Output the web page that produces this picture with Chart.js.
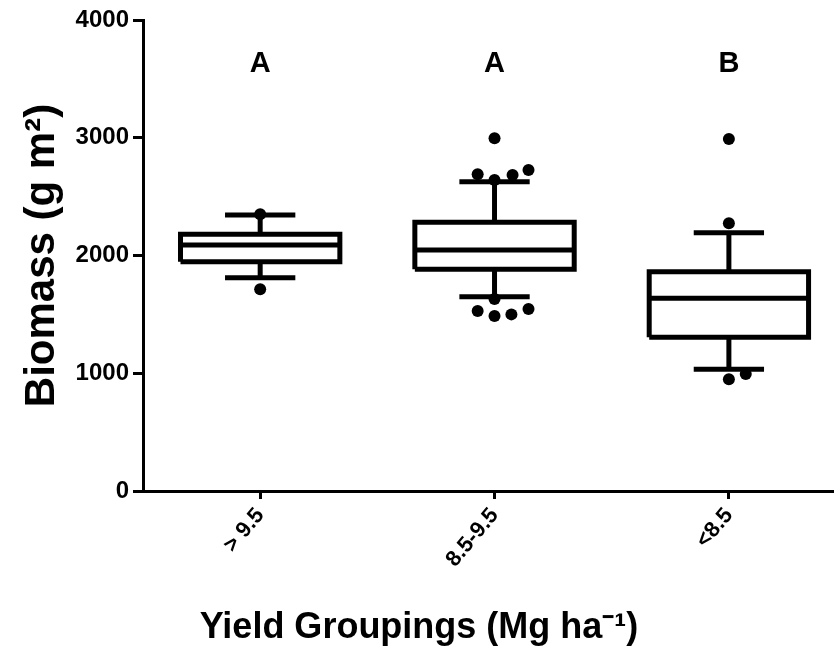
<!DOCTYPE html>
<html>
<head>
<meta charset="utf-8">
<script src="https://cdn.jsdelivr.net/npm/chart.js@4.4.1/dist/chart.umd.min.js"></script>
<style>
  body { margin: 0; background: #fff; }
</style>
</head>
<body>
<canvas id="grafico" width="838" height="656"></canvas>
<script>
// grupos e estatísticas do boxplot
const grupos = ['> 9.5', '8.5-9.5', '<8.5'];
const bigodeMin = [1811, 1650, 1033];
const q1 = [1947, 1883, 1305];
const medianas = [2089, 2047, 1636];
const q3 = [2180, 2282, 1862];
const bigodeMax = [2344, 2627, 2194];
const letras = ['A', 'A', 'B'];
const alturaLetras = 3630;
const ticksY = [0, 1000, 2000, 3000, 4000];

// pontos fora dos bigodes: grupo, deslocamento lateral, valor
const pontosGrupo = [1, 1, 2, 2, 2, 2, 2, 2, 2, 2, 2, 2, 3, 3, 3, 3];
const pontosDesloc = [0, 0, 0, -0.072, 0, 0.077, 0.145, 0, -0.072, 0, 0.072, 0.145, 0, 0, 0, 0.072];
const pontosValor = [2350, 1713, 2995, 2690, 2641, 2684, 2726, 1630, 1529, 1486, 1500, 1546, 2989, 2273, 949, 994];

const meiaCaixa = 0.34;
const meiaTampa = 0.15;
const FONTE = "'Liberation Sans', Arial, sans-serif";

const linha = (pontos) => ({
    type: 'scatter',
    data: pontos,
    showLine: true,
    borderColor: '#000',
    borderWidth: 5,
    pointRadius: 0,
    borderJoinStyle: 'miter',
    borderCapStyle: 'butt',
    order: 2
});

const datasets = [];
grupos.forEach((g, i) => {
    const x = i + 1;
    // caixa
    datasets.push(linha([
        {x: x - meiaCaixa, y: q1[i]}, {x: x + meiaCaixa, y: q1[i]},
        {x: x + meiaCaixa, y: q3[i]}, {x: x - meiaCaixa, y: q3[i]},
        {x: x - meiaCaixa, y: q1[i]}
    ]));
    // mediana
    datasets.push(linha([{x: x - meiaCaixa, y: medianas[i]}, {x: x + meiaCaixa, y: medianas[i]}]));
    // bigodes
    datasets.push(linha([{x: x, y: q3[i]}, {x: x, y: bigodeMax[i]}]));
    datasets.push(linha([{x: x, y: q1[i]}, {x: x, y: bigodeMin[i]}]));
    // tampas
    datasets.push(linha([{x: x - meiaTampa, y: bigodeMax[i]}, {x: x + meiaTampa, y: bigodeMax[i]}]));
    datasets.push(linha([{x: x - meiaTampa, y: bigodeMin[i]}, {x: x + meiaTampa, y: bigodeMin[i]}]));
});

datasets.push({
    type: 'scatter',
    data: pontosValor.map((v, i) => ({x: pontosGrupo[i] + pontosDesloc[i], y: v})),
    backgroundColor: '#000',
    borderColor: '#000',
    pointRadius: 6,
    pointBorderWidth: 0,
    order: 0
});

// letras de significância acima das caixas
const pluginLetras = {
    id: 'letras',
    afterDatasetsDraw(chart) {
        const ctx = chart.ctx;
        ctx.save();
        ctx.fillStyle = '#000';
        ctx.font = 'bold 29px ' + FONTE;
        ctx.textAlign = 'center';
        ctx.textBaseline = 'middle';
        letras.forEach((l, i) => {
            ctx.fillText(l, chart.scales.x.getPixelForValue(i + 1), chart.scales.y.getPixelForValue(alturaLetras));
        });
        ctx.restore();
    }
};

new Chart(document.getElementById('grafico').getContext('2d'), {
    type: 'scatter',
    data: { datasets: datasets },
    options: {
        responsive: false,
        animation: false,
        layout: { padding: { top: 20, right: 0, left: 0, bottom: 0 } },
        plugins: {
            legend: { display: false },
            tooltip: { enabled: false },
            title: {
                display: true,
                position: 'bottom',
                text: 'Yield Groupings (Mg ha\u207B\u00B9)',
                color: '#000',
                font: { family: FONTE, size: 36, weight: 'bold', lineHeight: 1.2 },
                padding: { top: 0, bottom: 6 }
            }
        },
        scales: {
            x: {
                type: 'linear',
                min: 0.5,
                max: 3.44,
                afterFit: (s) => { s.height = 165 - 49.2; },
                afterBuildTicks: (s) => { s.ticks = grupos.map((g, i) => ({value: i + 1})); },
                border: { display: true, color: '#000', width: 3 },
                grid: { drawOnChartArea: false, color: '#000', lineWidth: 3, tickLength: 8 },
                ticks: {
                    color: '#000',
                    font: { family: FONTE, size: 22, weight: 'bold' },
                    maxRotation: 50,
                    minRotation: 50,
                    padding: 4,
                    callback: (v) => grupos[v - 1]
                }
            },
            y: {
                min: 0,
                max: 4000,
                afterFit: (s) => { s.width = 143; },
                afterBuildTicks: (s) => { s.ticks = ticksY.map(v => ({value: v})); },
                border: { display: true, color: '#000', width: 3 },
                grid: { drawOnChartArea: false, color: '#000', lineWidth: 3, tickLength: 10 },
                ticks: {
                    color: '#000',
                    font: { family: FONTE, size: 24, weight: 'bold' },
                    padding: 4,
                    callback: (v) => String(v)
                },
                title: {
                    display: true,
                    text: 'Biomass (g m\u00B2)',
                    color: '#000',
                    font: { family: FONTE, size: 42, weight: 'bold' },
                    padding: { top: 17, bottom: 0 }
                }
            }
        }
    },
    plugins: [pluginLetras]
});
</script>
</body>
</html>
